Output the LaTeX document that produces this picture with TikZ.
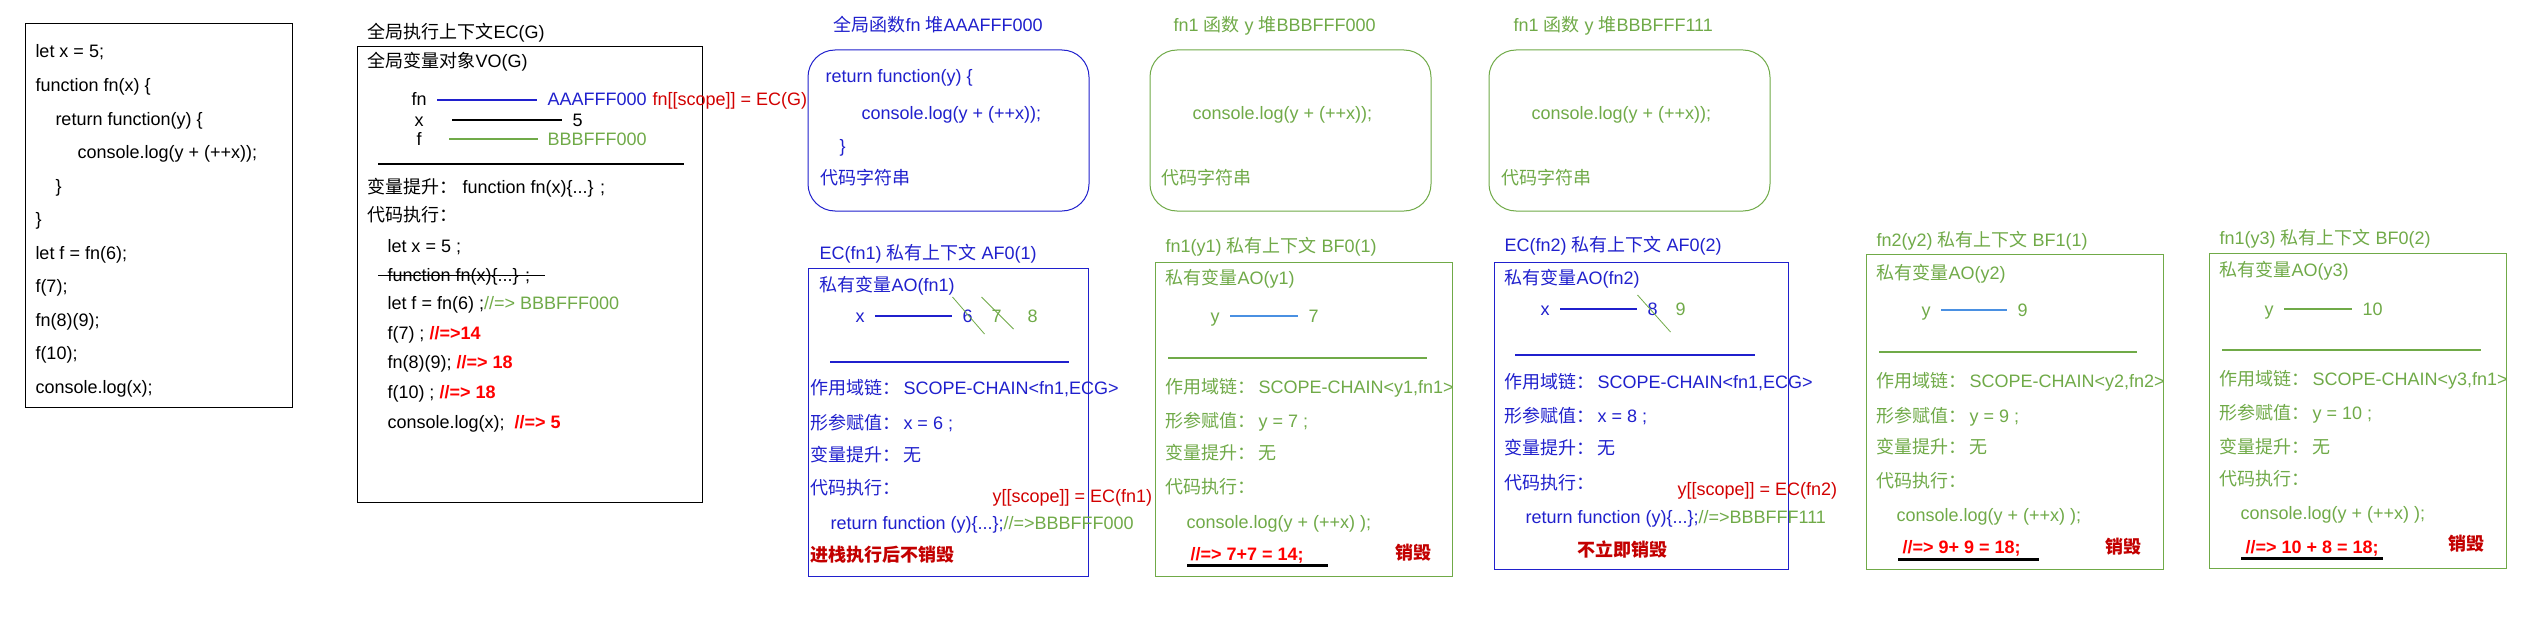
\documentclass[tikz,border=0pt]{standalone}
\usepackage{fontspec}
\setmainfont{Liberation Sans}
\newfontfamily\cjk{Noto Sans CJK SC}
\usepackage{tikz}
\usetikzlibrary{calc}
\definecolor{ecblue}{RGB}{32,32,205}
\definecolor{heapgreen}{RGB}{112,170,72}
\definecolor{linkblue}{RGB}{74,144,226}
\definecolor{scopered}{RGB}{210,0,0}
\definecolor{outred}{RGB}{255,0,0}
\definecolor{gonered}{RGB}{195,0,0}
\newcommand{\zh}[1]{{\cjk #1}}

\begin{document}
\begin{tikzpicture}[x=1pt,y=-1pt,line width=1pt]
		\tikzstyle{txt}=[anchor=base west,inner sep=0pt,text height=13pt,text depth=1pt,font=\fontsize{18}{22}\selectfont]
		\tikzstyle{btxt}=[txt,text=ecblue]
		\tikzstyle{gtxt}=[txt,text=heapgreen]
		\tikzstyle{rtxt}=[txt,text=scopered]
		\tikzstyle{hot}=[txt,text=outred,font=\fontsize{18}{22}\selectfont\bfseries]
		\tikzstyle{gone}=[txt,text=gonered,font=\fontsize{18}{22}\selectfont\bfseries]
		\tikzstyle{link}=[shorten <=10pt,shorten >=10pt,line width=1.2pt]
		\tikzstyle{heap}=[rounded corners=27pt]
		\tikzstyle{strike}=[heapgreen,line width=0.8pt]
		\tikzstyle{under}=[black,line width=2.2pt]

		\useasboundingbox[fill=white] (0,0) rectangle (2543,626);

		% source code
		\draw (25,24) rectangle (292,407);
		\node[txt] (c1) at (35,58) {let x = 5;};
		\node[txt] (c2) at (35,91.5) {function fn(x) \{};
		\node[txt] (c3) at (55,125) {return function(y) \{};
		\node[txt] (c4) at (77,158.5) {console.log(y + (++x));};
		\node[txt] (c5) at (55,192) {\}};
		\node[txt] (c6) at (35,225.5) {\}};
		\node[txt] (c7) at (35,259) {let f = fn(6);};
		\node[txt] (c8) at (35,292.5) {f(7);};
		\node[txt] (c9) at (35,326) {fn(8)(9);};
		\node[txt] (c10) at (35,359.5) {f(10);};
		\node[txt] (c11) at (35,393) {console.log(x);};

		% EC(G)
		\node[txt] (ecg) at (367,39) {\zh{全局执行上下文}EC(G)};
		\draw (357,47) rectangle (702,502);
		\node[txt] (vog) at (367,67) {\zh{全局变量对象}VO(G)};
		\node[txt] (fnG) at (411,106) {fn};
		\node[btxt] (fnGv) at (547,106) {AAAFFF000};
		\node[rtxt] (fnGs) at (652,106) {fn[[scope]] = EC(G)};
		\node[txt] (xG) at (414,126) {x};
		\node[txt] (xGv) at (572,126) {5};
		\node[txt] (fG) at (416,145) {f};
		\node[gtxt] (fGv) at (547,145) {BBBFFF000};
		\draw[ecblue,link] (fnG) -- (fnGv);
		\draw[link,shorten <=28pt] (xG) -- (xGv);
		\draw[heapgreen,link,shorten <=27pt,shorten >=9pt] (fG) -- (fGv);
		\draw[line width=1.2pt] (378,164) -- (684,164);
		\node[txt] (hoG) at (367,193) {\zh{变量提升：} function fn(x)\{...\} ;};
		\node[txt] (ruG) at (367,221) {\zh{代码执行：}};
		\node[txt] (g1) at (387,252) {let x = 5 ;};
		\node[txt] (g2) at (387,281) {function fn(x)\{...\} ;};
		\draw[shorten <=-9pt,shorten >=-14pt] (g2.west) -- (g2.east);
		\node[txt] (g3) at (387,309) {let f = fn(6) ;\textcolor{heapgreen}{//=> BBBFFF000}};
		\node[txt] (g4) at (387,339) {f(7) ; \textcolor{outred}{\bfseries //=>14}};
		\node[txt] (g5) at (387,368) {fn(8)(9); \textcolor{outred}{\bfseries //=> 18}};
		\node[txt] (g6) at (387,398) {f(10) ; \textcolor{outred}{\bfseries //=> 18}};
		\node[txt] (g7) at (387,428) {console.log(x);\ \ \textcolor{outred}{\bfseries //=> 5}};

		% heap AAAFFF000
		\node[btxt] (heapA) at (833,32) {\zh{全局函数}fn \zh{堆}AAAFFF000};
		\draw[ecblue,heap] (808,50) rectangle (1089,211);
		\node[btxt] (hA1) at (825,82) {return function(y) \{};
		\node[btxt] (hA2) at (861,119) {console.log(y + (++x));};
		\node[btxt] (hA3) at (839,152) {\}};
		\node[btxt] (hA4) at (820,184) {\zh{代码字符串}};

		% heap BBBFFF000
		\node[gtxt] (heapB) at (1173,32) {fn1 \zh{函数} y \zh{堆}BBBFFF000};
		\draw[heapgreen,heap] (1150,50) rectangle (1431,211);
		\node[gtxt] (hB1) at (1192,119) {console.log(y + (++x));};
		\node[gtxt] (hB2) at (1161,184) {\zh{代码字符串}};

		% heap BBBFFF111
		\node[gtxt] (heapC) at (1513,32) {fn1 \zh{函数} y \zh{堆}BBBFFF111};
		\draw[heapgreen,heap] (1489,50) rectangle (1770,211);
		\node[gtxt] (hC1) at (1531,119) {console.log(y + (++x));};
		\node[gtxt] (hC2) at (1501,184) {\zh{代码字符串}};

		% EC(fn1)
		\node[btxt] (af01) at (819,259) {EC(fn1) \zh{私有上下文} AF0(1)};
		\draw[ecblue] (808,268) rectangle (1088,576);
		\node[btxt] (ao1) at (819,291) {\zh{私有变量}AO(fn1)};
		\node[btxt] (x1) at (855,322) {x};
		\node[btxt] (x1a) at (962,322) {6};
		\node[gtxt] (x1b) at (991,322) {7};
		\node[gtxt] (x1c) at (1027,322) {8};
		\draw[ecblue,link] (x1) -- (x1a);
		\draw[strike] ($(x1a)+(-15,-19)$) -- ($(x1a)+(17,18)$);
		\draw[strike] ($(x1b)+(-15,-19)$) -- ($(x1b)+(17,13)$);
		\draw[ecblue,line width=1.2pt] (830,362) -- (1069,362);
		\node[btxt] (sc1) at (810,394) {\zh{作用域链：}\hspace{3pt}SCOPE-CHAIN<fn1,ECG>};
		\node[btxt] (pa1) at (810,429) {\zh{形参赋值：}\hspace{3pt}x = 6 ;};
		\node[btxt] (ho1) at (810,461) {\zh{变量提升：}\hspace{3pt}\zh{无}};
		\node[btxt] (ru1) at (810,494) {\zh{代码执行：}};
		\node[rtxt] (sp1) at (992,502) {y[[scope]] = EC(fn1)};
		\node[btxt] (rt1) at (830,529) {return function (y)\{...\};\textcolor{heapgreen}{//=>BBBFFF000}};
		\node[gone] (keep1) at (810,561) {\zh{进栈执行后不销毁}};

		% fn1(y1)
		\node[gtxt] (bf01) at (1165,252) {fn1(y1) \zh{私有上下文} BF0(1)};
		\draw[heapgreen] (1155,262) rectangle (1452,576);
		\node[gtxt] (ao2) at (1165,284) {\zh{私有变量}AO(y1)};
		\node[gtxt] (y1) at (1210,322) {y};
		\node[gtxt] (y1a) at (1308,322) {7};
		\draw[linkblue,link] (y1) -- (y1a);
		\draw[heapgreen,line width=1.2pt] (1168,358) -- (1427,358);
		\node[gtxt] (sc2) at (1165,393) {\zh{作用域链：}\hspace{3pt}SCOPE-CHAIN<y1,fn1>};
		\node[gtxt] (pa2) at (1165,427) {\zh{形参赋值：}\hspace{3pt}y = 7 ;};
		\node[gtxt] (ho2) at (1165,459) {\zh{变量提升：}\hspace{3pt}\zh{无}};
		\node[gtxt] (ru2) at (1165,493) {\zh{代码执行：}};
		\node[gtxt] (lg2) at (1186,528) {console.log(y + (++x) );};
		\node[hot] (out2) at (1190,560) {//=> 7+7 = 14;};
		\draw[under] ([shift={(-3,4)}]out2.south west) -- ++(141,0);
		\node[gone] (end2) at (1395,559) {\zh{销毁}};

		% EC(fn2)
		\node[btxt] (af02) at (1504,251) {EC(fn2) \zh{私有上下文} AF0(2)};
		\draw[ecblue] (1494,262) rectangle (1788,569);
		\node[btxt] (ao3) at (1504,284) {\zh{私有变量}AO(fn2)};
		\node[btxt] (x3) at (1540,315) {x};
		\node[btxt] (x3a) at (1647,315) {8};
		\node[gtxt] (x3b) at (1675,315) {9};
		\draw[ecblue,link] (x3) -- (x3a);
		\draw[strike] ($(x3a)+(-15,-14)$) -- ($(x3a)+(18,23)$);
		\draw[ecblue,line width=1.2pt] (1515,355) -- (1755,355);
		\node[btxt] (sc3) at (1504,388) {\zh{作用域链：}\hspace{3pt}SCOPE-CHAIN<fn1,ECG>};
		\node[btxt] (pa3) at (1504,422) {\zh{形参赋值：}\hspace{3pt}x = 8 ;};
		\node[btxt] (ho3) at (1504,454) {\zh{变量提升：}\hspace{3pt}\zh{无}};
		\node[btxt] (ru3) at (1504,489) {\zh{代码执行：}};
		\node[rtxt] (sp3) at (1677,495) {y[[scope]] = EC(fn2)};
		\node[btxt] (rt3) at (1525,523) {return function (y)\{...\};\textcolor{heapgreen}{//=>BBBFFF111}};
		\node[gone] (keep3) at (1577,556) {\zh{不立即销毁}};

		% fn2(y2)
		\node[gtxt] (bf11) at (1876,246) {fn2(y2) \zh{私有上下文} BF1(1)};
		\draw[heapgreen] (1866,254) rectangle (2163,569);
		\node[gtxt] (ao4) at (1876,279) {\zh{私有变量}AO(y2)};
		\node[gtxt] (y4) at (1921,316) {y};
		\node[gtxt] (y4a) at (2017,316) {9};
		\draw[linkblue,link] (y4) -- (y4a);
		\draw[heapgreen,line width=1.2pt] (1879,352) -- (2137,352);
		\node[gtxt] (sc4) at (1876,387) {\zh{作用域链：}\hspace{3pt}SCOPE-CHAIN<y2,fn2>};
		\node[gtxt] (pa4) at (1876,422) {\zh{形参赋值：}\hspace{3pt}y = 9 ;};
		\node[gtxt] (ho4) at (1876,453) {\zh{变量提升：}\hspace{3pt}\zh{无}};
		\node[gtxt] (ru4) at (1876,487) {\zh{代码执行：}};
		\node[gtxt] (lg4) at (1896,521) {console.log(y + (++x) );};
		\node[hot] (out4) at (1902,553) {//=> 9+ 9 = 18;};
		\draw[under] ([shift={(-4,5)}]out4.south west) -- ++(141,0);
		\node[gone] (end4) at (2105,553) {\zh{销毁}};

		% fn1(y3)
		\node[gtxt] (bf02) at (2219,244) {fn1(y3) \zh{私有上下文} BF0(2)};
		\draw[heapgreen] (2209,253) rectangle (2506,568);
		\node[gtxt] (ao5) at (2219,276) {\zh{私有变量}AO(y3)};
		\node[gtxt] (y5) at (2264,315) {y};
		\node[gtxt] (y5a) at (2362,315) {10};
		\draw[heapgreen,link] (y5) -- (y5a);
		\draw[heapgreen,line width=1.2pt] (2222,350) -- (2481,350);
		\node[gtxt] (sc5) at (2219,385) {\zh{作用域链：}\hspace{3pt}SCOPE-CHAIN<y3,fn1>};
		\node[gtxt] (pa5) at (2219,419) {\zh{形参赋值：}\hspace{3pt}y = 10 ;};
		\node[gtxt] (ho5) at (2219,453) {\zh{变量提升：}\hspace{3pt}\zh{无}};
		\node[gtxt] (ru5) at (2219,485) {\zh{代码执行：}};
		\node[gtxt] (lg5) at (2240,519) {console.log(y + (++x) );};
		\node[hot] (out5) at (2245,553) {//=> 10 + 8 = 18;};
		\draw[under] ([shift={(-4,4)}]out5.south west) -- ++(142,0);
		\node[gone] (end5) at (2448,550) {\zh{销毁}};
\end{tikzpicture}
\end{document}
